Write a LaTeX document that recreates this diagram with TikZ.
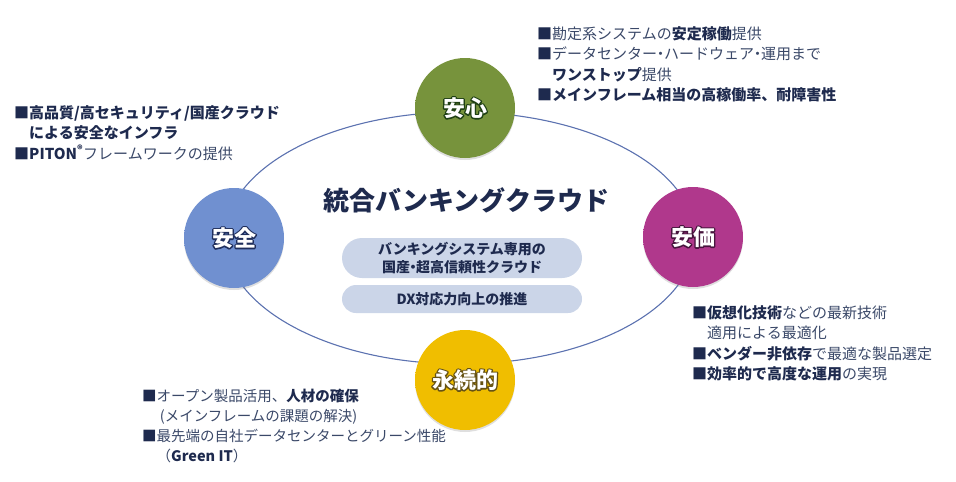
\documentclass[tikz,border=0pt]{standalone}
\usepackage{fontspec}
\setmainfont{Noto Sans CJK JP}
\usetikzlibrary{shadows}

\definecolor{inknavy}{RGB}{30,42,78}
\definecolor{inkgrey}{RGB}{58,72,104}
\definecolor{ringblue}{RGB}{92,114,176}
\definecolor{pillblue}{RGB}{203,213,232}
\colorlet{ballin}{white}
\colorlet{ballout}{gray}
\pgfdeclareradialshading[ballin,ballout]{rimball}{\pgfpoint{0bp}{0bp}}%
  {color(0bp)=(ballin); color(34bp)=(ballin); color(47bp)=(ballout); color(50bp)=(ballout)}

\newcommand\kw[1]{{\bfseries\color{inknavy}#1}}
\newcommand\bul{{\color{inknavy}■}}
\newcommand\nakaguro{\kern-4pt・\kern-4pt}
%% white letters with a dark rim: stroked layer under the filled one
\newcommand\rimtext[2]{\rlap{\special{pdf:literal direct 1 Tr 2.6 w 1 J 1 j #1 RG}#2\special{pdf:literal direct 0 Tr 1 w}}#2}

\begin{document}
\begin{tikzpicture}[x=1pt,y=-1pt,
    ring/.style={draw=ringblue,line width=1.1pt},
    ballcol/.code 2 args={\colorlet{ballin}{#1}\colorlet{ballout}{#2}},
    ball/.style={circle,minimum size=100pt,inner sep=0pt,shading=rimball,
      text=white,font=\fontsize{22}{22}\selectfont\bfseries,
      drop shadow={opacity=.25,shadow xshift=0pt,shadow yshift=-2pt}},
    pill/.style={fill=pillblue,rounded corners=#1,minimum width=240pt,inner sep=0pt,
      text=inknavy,font=\fontsize{14}{20}\selectfont\bfseries,align=center},
    note/.style={anchor=north west,inner sep=0pt,align=left,text=inkgrey,
      font=\fontsize{15}{20.5}\selectfont}]

  \useasboundingbox (0,0) rectangle (956,482);

  %% the ring behind the four values
  \draw[ring] (460,238) ellipse [x radius=235pt, y radius=126pt];

  %% the four values
  \node[ball,ballcol={rgb,255:red,119;green,147;blue,60}{rgb,255:red,92;green,118;blue,44}]
    (anshin) at (465,108) {\rimtext{0.12 0.25 0.08}{安心}};
  \node[ball,ballcol={rgb,255:red,112;green,144;blue,208}{rgb,255:red,84;green,112;blue,180}]
    (anzen) at (234,238) {\rimtext{0.12 0.18 0.36}{安全}};
  \node[ball,ballcol={rgb,255:red,176;green,56;blue,140}{rgb,255:red,140;green,36;blue,108}]
    (anka) at (693,237) {\rimtext{0.28 0.08 0.24}{安価}};
  \node[ball,ballcol={rgb,255:red,240;green,190;blue,0}{rgb,255:red,214;green,160;blue,0}]
    (eizoku) at (465,380) {\rimtext{0.4 0.32 0.08}{永続的}};

  %% centre
  \node[text=inknavy,font=\fontsize{26}{26}\selectfont\bfseries] (title) at (466,200) {統合バンキングクラウド};
  \node[pill=20pt,minimum height=40pt] (pill-1) at (462,258) {バンキングシステム専用の\\[-2pt]国産\nakaguro 超高信頼性クラウド};
  \node[pill=14pt,minimum height=28pt] (pill-2) at (462,299) {DX対応力向上の推進};

  %% notes round the ring
  \node[note] (note-anshin) at (537,26) {\bul 勘定系システムの\kw{安定稼働}提供\\
    \bul データセンター\nakaguro ハードウェア\nakaguro 運用まで\\
    \phantom{■}\kw{ワンストップ}提供\\
    \bul\kw{メインフレーム相当の高稼働率、耐障害性}};
  \node[note] (note-anzen) at (14,105) {\bul\kw{高品質/高セキュリティ/国産クラウド}\\
    \phantom{■}\kw{による安全なインフラ}\\
    \bul\kw{PITON\textsuperscript{®}}フレームワークの提供};
  \node[note] (note-anka) at (692,305) {\bul\kw{仮想化技術}などの最新技術\\
    \phantom{■}適用による最適化\\
    \bul\kw{ベンダー非依存}で最適な製品選定\\
    \bul\kw{効率的で高度な運用}の実現};
  \node[note,font=\fontsize{14.5}{20}\selectfont] (note-eizoku) at (142,389) {\bul オープン製品活用、\kw{人材の確保}\\
    \phantom{■} (メインフレームの課題の解決)\\
    \bul 最先端の自社データセンターとグリーン性能\\
    \phantom{■}（\kw{Green IT}）};

\end{tikzpicture}
\end{document}
